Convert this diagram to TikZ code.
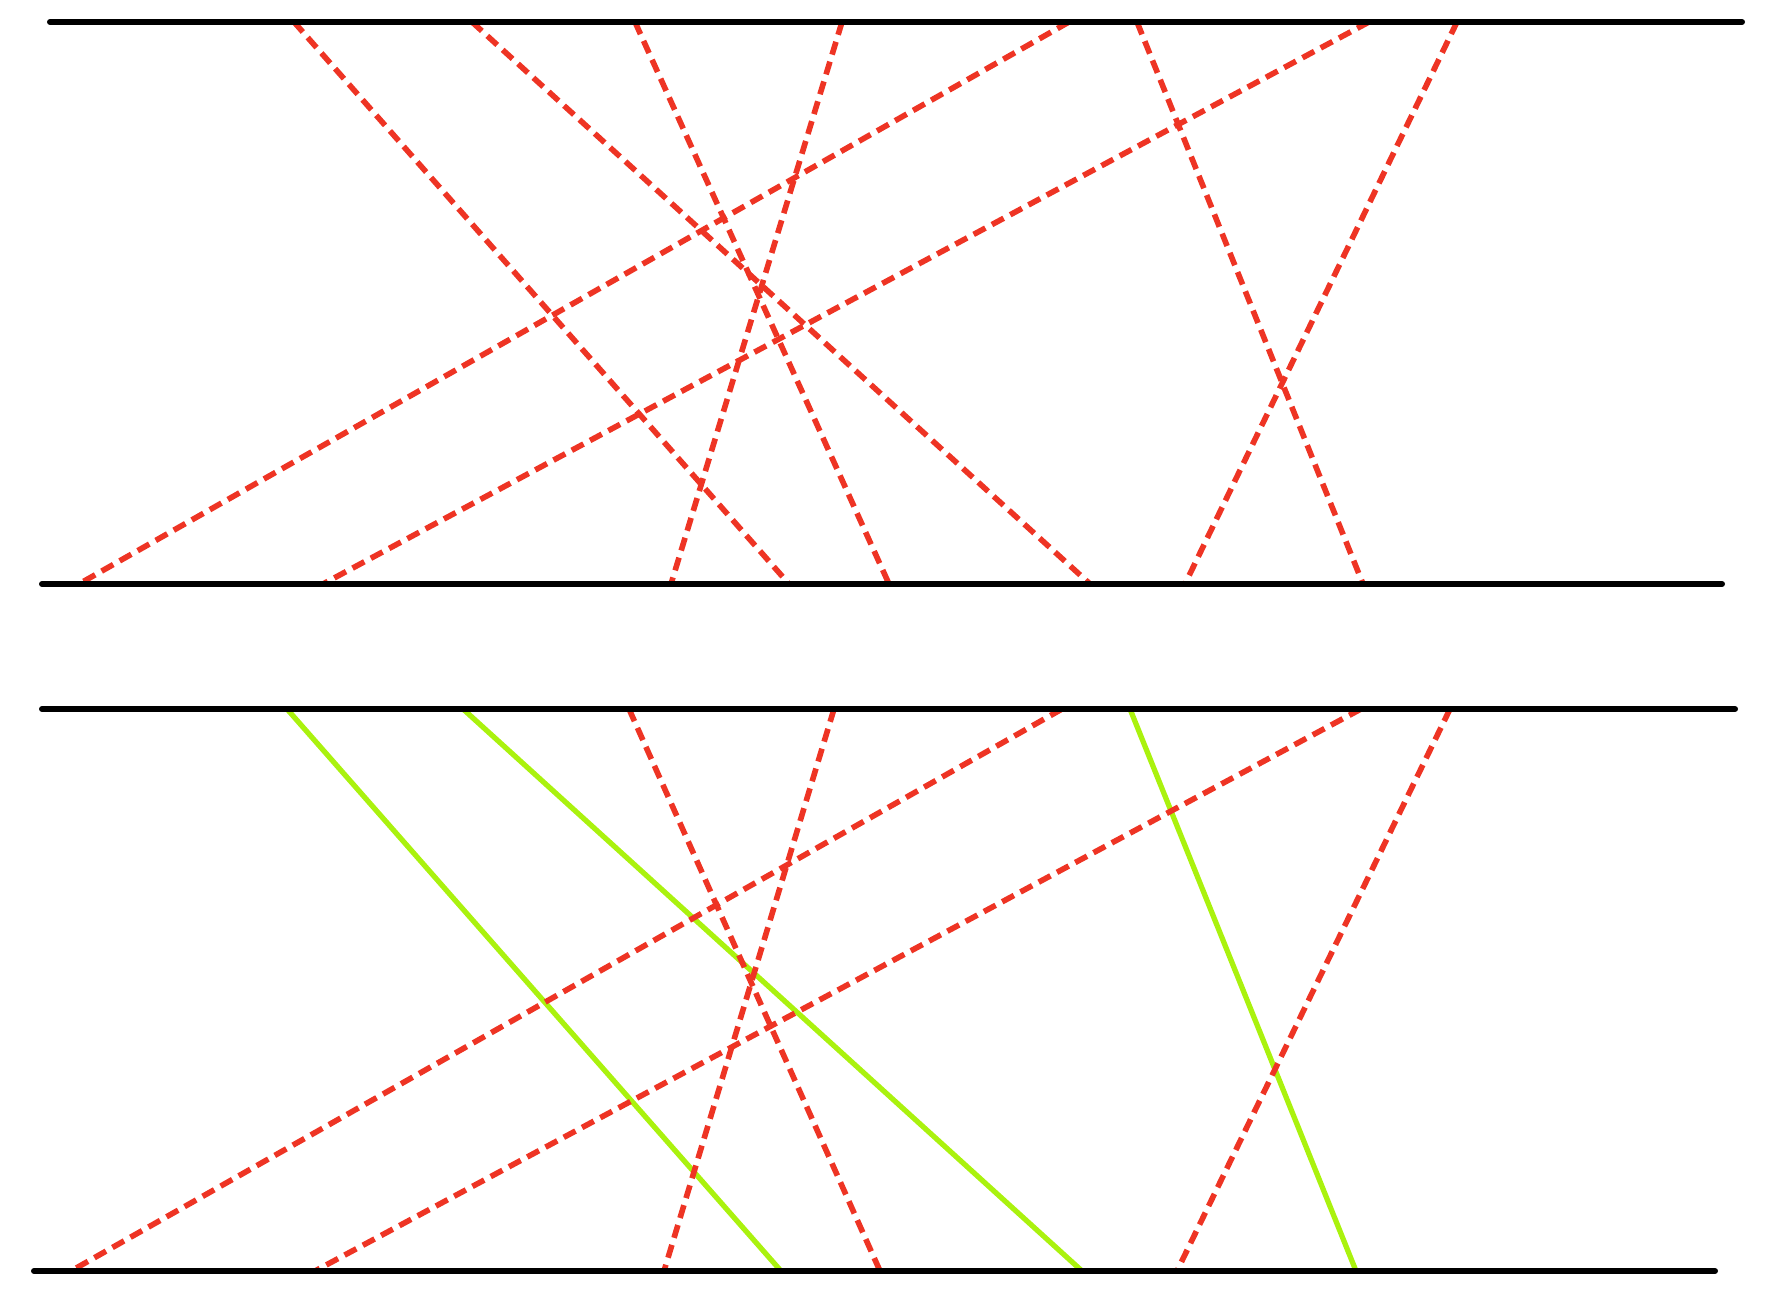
\documentclass[tikz,border=0pt]{standalone}
\usepackage{tikz}
\usepackage{xcolor}
\definecolor{crossred}{RGB}{238,52,36}
\definecolor{crossgreen}{RGB}{170,242,14}
\tikzset{>=latex}

\begin{document}
\begin{tikzpicture}[
            rail/.style={draw=black, line width=1.7pt, line cap=round},
            redline/.style={draw=crossred, line width=1.6pt, dash pattern=on 3.8pt off 2.1pt},
            greenline/.style={draw=crossgreen, line width=1.5pt, line cap=round}
        ]
            \useasboundingbox (0, 0) rectangle (17.76, 12.91);
            % rails
            \coordinate (urailtl) at (0.50, 12.69);
            \coordinate (urailtr) at (17.42, 12.69);
            \coordinate (urailbl) at (0.42, 7.07);
            \coordinate (urailbr) at (17.22, 7.07);
            \coordinate (lrailtl) at (0.42, 5.82);
            \coordinate (lrailtr) at (17.35, 5.82);
            \coordinate (lrailbl) at (0.34, 0.20);
            \coordinate (lrailbr) at (17.15, 0.20);
            % upper ends
            \coordinate (uonet) at (2.94, 12.69);
            \coordinate (uoneb) at (7.89, 7.07);
            \coordinate (utwot) at (4.72, 12.69);
            \coordinate (utwob) at (10.90, 7.07);
            \coordinate (uthreet) at (6.35, 12.69);
            \coordinate (uthreeb) at (8.89, 7.07);
            \coordinate (ufourt) at (8.42, 12.69);
            \coordinate (ufourb) at (6.71, 7.07);
            \coordinate (ufivet) at (10.69, 12.69);
            \coordinate (ufiveb) at (0.79, 7.07);
            \coordinate (usixt) at (11.37, 12.69);
            \coordinate (usixb) at (13.63, 7.07);
            \coordinate (usevent) at (13.69, 12.69);
            \coordinate (usevenb) at (3.23, 7.07);
            \coordinate (ueightt) at (14.57, 12.69);
            \coordinate (ueightb) at (11.85, 7.07);
            % lower ends
            \coordinate (lonet) at (2.87, 5.82);
            \coordinate (loneb) at (7.81, 0.20);
            \coordinate (ltwot) at (4.63, 5.82);
            \coordinate (ltwob) at (10.82, 0.20);
            \coordinate (lthreet) at (6.29, 5.82);
            \coordinate (lthreeb) at (8.80, 0.20);
            \coordinate (lfourt) at (8.34, 5.82);
            \coordinate (lfourb) at (6.64, 0.20);
            \coordinate (lfivet) at (10.62, 5.82);
            \coordinate (lfiveb) at (0.71, 0.20);
            \coordinate (lsixt) at (11.30, 5.82);
            \coordinate (lsixb) at (13.56, 0.20);
            \coordinate (lsevent) at (13.61, 5.82);
            \coordinate (lsevenb) at (3.15, 0.20);
            \coordinate (leightt) at (14.50, 5.82);
            \coordinate (leightb) at (11.77, 0.20);
            % paths
            \draw[redline] (uonet) -- (uoneb);
            \draw[redline] (utwot) -- (utwob);
            \draw[redline] (uthreet) -- (uthreeb);
            \draw[redline] (ufourt) -- (ufourb);
            \draw[redline] (ufivet) -- (ufiveb);
            \draw[redline] (usixt) -- (usixb);
            \draw[redline] (usevent) -- (usevenb);
            \draw[redline] (ueightt) -- (ueightb);
            \draw[greenline] (lonet) -- (loneb);
            \draw[greenline] (ltwot) -- (ltwob);
            \draw[redline] (lthreet) -- (lthreeb);
            \draw[redline] (lfourt) -- (lfourb);
            \draw[redline] (lfivet) -- (lfiveb);
            \draw[greenline] (lsixt) -- (lsixb);
            \draw[redline] (lsevent) -- (lsevenb);
            \draw[redline] (leightt) -- (leightb);
            \draw[rail] (urailtl) -- (urailtr);
            \draw[rail] (urailbl) -- (urailbr);
            \draw[rail] (lrailtl) -- (lrailtr);
            \draw[rail] (lrailbl) -- (lrailbr);
        \end{tikzpicture}
\end{document}
